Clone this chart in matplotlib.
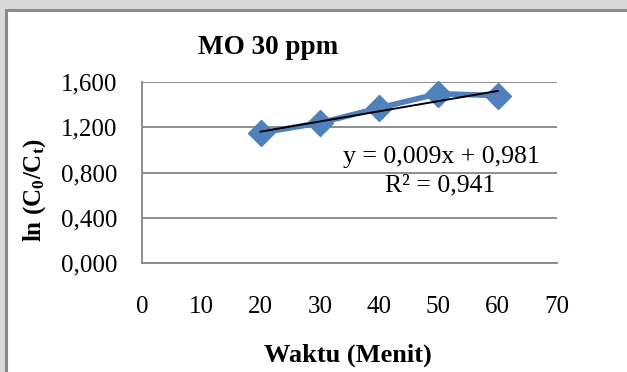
import numpy as np
import matplotlib.pyplot as plt
from matplotlib.patches import Rectangle

# kinetic data, MO 30 ppm
waktu = [20, 30, 40, 50, 60]
ln_c0_ct = [1.150, 1.238, 1.371, 1.497, 1.480]
slope, intercept = 0.009, 0.981
r2 = 0.941

x_ticks = [0, 10, 20, 30, 40, 50, 60, 70]
y_ticks = [0.0, 0.4, 0.8, 1.2, 1.6]
y_labels = ['0,000', '0,400', '0,800', '1,200', '1,600']

W, H = 627, 372
plt.rcParams['font.family'] = ['Liberation Serif', 'DejaVu Serif']
plt.rcParams['mathtext.fontset'] = 'custom'
plt.rcParams['mathtext.rm'] = 'Liberation Serif'
plt.rcParams['mathtext.it'] = 'Liberation Serif:italic'
plt.rcParams['mathtext.bf'] = 'Liberation Serif:bold'

fig = plt.figure(figsize=(W / 100, H / 100), dpi=100)
fig.patch.set_facecolor('#d9d9d9')

# white chart area with grey frame
fig.patches.append(Rectangle((6 / W, -0.05), 1.1, 1 - 10 / H + 0.05, transform=fig.transFigure,
                             facecolor='white', edgecolor='#8a8a8a', linewidth=2.2, zorder=0))

ax = fig.add_axes([142 / W, 1 - 263 / H, (557 - 142) / W, (263 - 82) / H])
ax.set_zorder(2)
ax.set_facecolor('white')
ax.set_xlim(0, 70)
ax.set_ylim(0, 1.6)
ax.set_xticks(x_ticks)
ax.set_yticks(y_ticks)
ax.set_yticklabels(y_labels)
ax.tick_params(axis='both', length=0, labelsize=18)
ax.tick_params(axis='x', pad=24)
ax.tick_params(axis='y', pad=18)
ax.grid(axis='y', color='#868686', linewidth=1.3)
ax.set_axisbelow(True)
for side in ['top', 'right']:
    ax.spines[side].set_visible(False)
for side in ['left', 'bottom']:
    ax.spines[side].set_color('#868686')
    ax.spines[side].set_linewidth(1.3)

ax.plot(waktu, ln_c0_ct, color='#4f81bd', linewidth=4, marker='D',
        markersize=13, markeredgecolor='#4f81bd', zorder=3, clip_on=False)

xt = np.array([waktu[0], waktu[-1]])
ax.plot(xt, slope * xt + intercept, color='black', linewidth=1.4, zorder=4)

fig.text(540 / W, 1 - 157 / H, 'y = 0,009x + 0,981', ha='right', va='center', fontsize=18.5, zorder=5)
fig.text(440 / W, 1 - 185 / H, 'R² = 0,941', ha='center', va='center', fontsize=18.5, zorder=5)

fig.text(268 / W, 1 - 48 / H, 'MO 30 ppm', ha='center', va='center', fontsize=19.5, fontweight='bold')
fig.text(348 / W, 1 - 355 / H, 'Waktu (Menit)', ha='center', va='center', fontsize=19, fontweight='bold')
fig.text(35 / W, 1 - 190 / H, r'ln (C$_\mathbf{0}$/C$_\mathbf{t}$)', ha='center', va='center',
         rotation=90, fontsize=18, fontweight='bold')

fig.savefig('out.png', dpi=100, facecolor=fig.get_facecolor())
